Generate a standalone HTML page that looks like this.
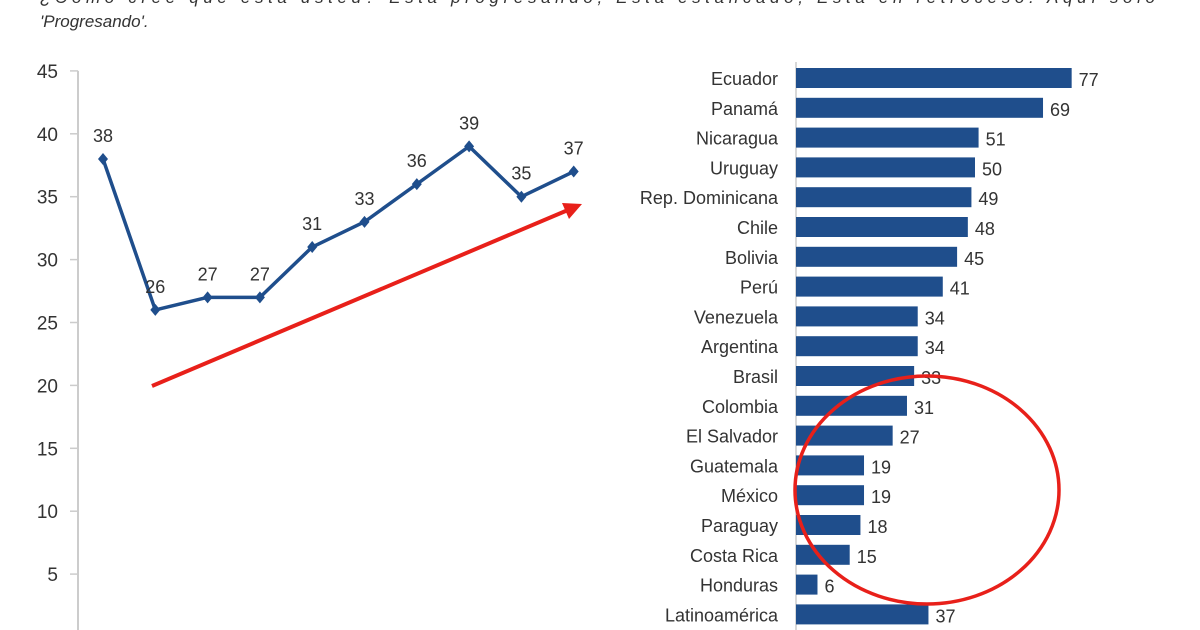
<!DOCTYPE html>
<html><head><meta charset="utf-8"><style>
html,body{margin:0;padding:0;background:#fff;width:1200px;height:630px;overflow:hidden}
svg{display:block}
text{font-family:"Liberation Sans",Arial,sans-serif}
</style></head><body>
<svg width="1200" height="630">
<text x="40" y="3" font-size="17" font-style="italic" fill="#333" textLength="1115" lengthAdjust="spacing">¿Cómo cree que está usted? Está progresando, Está estancado, Está en retroceso. Aquí solo</text>
<text x="40" y="27" font-size="17" font-style="italic" fill="#333">'Progresando'.</text>
<g id="line"></g>
<g id="bars"></g>
</svg>
<script>
const lineValues=[38,26,27,27,31,33,36,39,35,37];
const yTicks=[0,5,10,15,20,25,30,35,40,45];
const countries=["Ecuador","Panamá","Nicaragua","Uruguay","Rep. Dominicana","Chile","Bolivia","Perú","Venezuela","Argentina","Brasil","Colombia","El Salvador","Guatemala","México","Paraguay","Costa Rica","Honduras","Latinoamérica"];
const barValues=[77,69,51,50,49,48,45,41,34,34,33,31,27,19,19,18,15,6,37];

const NS="http://www.w3.org/2000/svg";
function mk(tag,attrs,parent,txt){const e=document.createElementNS(NS,tag);for(const k in attrs)e.setAttribute(k,attrs[k]);if(txt!==undefined)e.textContent=txt;parent.appendChild(e);return e;}
const L=document.getElementById('line'),B=document.getElementById('bars');
const yS=v=>637-v*12.58;
const xS=i=>103+i*52.3;
let ax=mk('line',{x1:78,y1:yS(45),x2:78,y2:630,stroke:'#ccc','stroke-width':2},L);

yTicks.forEach(t=>{
 let tk=mk('line',{x1:70,y1:yS(t),x2:78,y2:yS(t),stroke:'#ccc','stroke-width':1.5},L);
 
 let lb=mk('text',{x:58,y:yS(t)+7,'font-size':19,'text-anchor':'end',fill:'#333'},L,String(t));
 
});
let pl=mk('polyline',{points:lineValues.map((v,i)=>xS(i)+','+yS(v)).join(' '),fill:'none',stroke:'#1f4e8c','stroke-width':3.5,'stroke-linejoin':'round'},L);

lineValues.forEach((v,i)=>{
 let x=xS(i),y=yS(v);
 let p=mk('polygon',{points:`${x},${y-6} ${x+5},${y} ${x},${y+6} ${x-5},${y}`,fill:'#1f4e8c'},L);
 
 let t=mk('text',{x:x,y:y-17,'font-size':18,'text-anchor':'middle',fill:'#333'},L,String(v));
 
});
let ar=mk('line',{x1:152,y1:386,x2:568,y2:210,stroke:'#e8201a','stroke-width':4},L);

let ah=mk('polygon',{points:'582,204 562,203 569,219',fill:'#e8201a'},L);


const bx=796,bs=3.58,rowY=i=>78+i*29.8;
let bax=mk('line',{x1:bx,y1:62,x2:bx,y2:630,stroke:'#ccc','stroke-width':1.5},B);

countries.forEach((c,i)=>{
 let y=rowY(i);
 let r=mk('rect',{x:bx,y:y-10,width:barValues[i]*bs,height:20,fill:'#1f4e8c'},B);
 
 let l=mk('text',{x:778,y:y+7,'font-size':18,'text-anchor':'end',fill:'#333'},B,c);
 
 let v=mk('text',{x:bx+barValues[i]*bs+7,y:y+8,'font-size':18,fill:'#333'},B,String(barValues[i]));
 
});
let el=mk('ellipse',{cx:927,cy:490,rx:132,ry:114,fill:'none',stroke:'#e8201a','stroke-width':3.5},B);

</script>
</body></html>
